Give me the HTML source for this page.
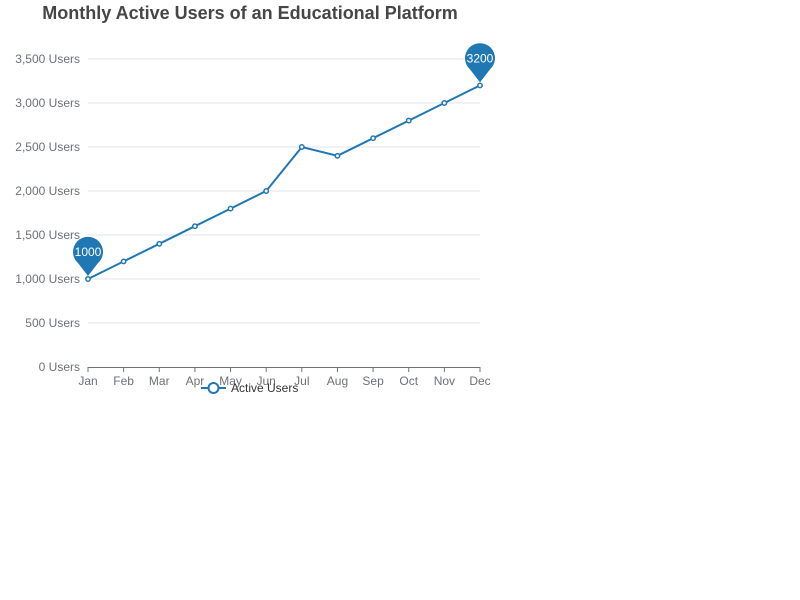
<!DOCTYPE html>
<html><head><meta charset="utf-8"><style>
body{margin:0;background:#fff;}
svg{display:block;font-family:"Liberation Sans",sans-serif;}
</style></head><body>
<svg id="c" width="800" height="600">
<text x="250" y="19" text-anchor="middle" font-size="18" font-weight="bold" fill="#464646">Monthly Active Users of an Educational Platform</text>
<g id="grid"></g><g id="axes"></g><g id="series"></g><g id="pins"></g>
<g>
<line x1="201" y1="388" x2="226" y2="388" stroke="#1f77b4" stroke-width="2"/>
<circle cx="213.5" cy="388" r="5" fill="#fff" stroke="#1f77b4" stroke-width="2"/>
<text x="231" y="392" font-size="12" fill="#333">Active Users</text>
</g>
</svg>
<script>
const categories=["Jan","Feb","Mar","Apr","May","Jun","Jul","Aug","Sep","Oct","Nov","Dec"];
const values=[1000,1200,1400,1600,1800,2000,2500,2400,2600,2800,3000,3200];
const yTicks=[0,500,1000,1500,2000,2500,3000,3500];
const NS="http://www.w3.org/2000/svg";
const x0=88,x1=480,y0=367,y1=59,yMax=3500;
const xs=i=>x0+i*(x1-x0)/(categories.length-1);
const ys=v=>y0-v/yMax*(y0-y1);
function mk(t,a,p){const e=document.createElementNS(NS,t);for(const k in a)e.setAttribute(k,a[k]);p.appendChild(e);return e;}
const grid=document.getElementById('grid'),axes=document.getElementById('axes'),series=document.getElementById('series'),pins=document.getElementById('pins');
yTicks.forEach(v=>{
 if(v>0){const l=mk('line',{x1:x0,x2:x1,y1:ys(v),y2:ys(v),stroke:'#e0e6f1'},grid);
 
 }
 const t=mk('text',{x:80,y:ys(v)+4,'text-anchor':'end','font-size':12,fill:'#6e7079'},axes);
 t.textContent=v.toLocaleString('en-US')+' Users';
 
 
});
const ax=mk('line',{x1:x0,x2:x1,y1:y0+.5,y2:y0+.5,stroke:'#6e7079'},axes);


categories.forEach((c,i)=>{
 mk('line',{x1:xs(i),x2:xs(i),y1:y0,y2:y0+5,stroke:'#6e7079'},axes);
 const t=mk('text',{x:xs(i),y:y0+18,'text-anchor':'middle','font-size':12,fill:'#6e7079'},axes);
 t.textContent=c;
 
 
});
const line=mk('polyline',{points:values.map((v,i)=>xs(i)+','+ys(v)).join(' '),fill:'none',stroke:'#1f77b4','stroke-width':2},series);


values.forEach((v,i)=>{
 const p=mk('circle',{cx:xs(i),cy:ys(v),r:2.2,fill:'#fff',stroke:'#1f77b4','stroke-width':1.5},series);
 
 
});
function pin(i){
 const x=xs(i),y=ys(values[i]);
 const g=mk('g',{},pins);
 
 
 const cy=y-27,r=15;
 mk('path',{d:`M${x},${y-3} L${x-10},${cy+11} A${r},${r} 0 1 1 ${x+10},${cy+11} Z`,fill:'#1f77b4'},g);
 const t=mk('text',{x:x,y:cy+4,'text-anchor':'middle','font-size':12,fill:'#fff'},g);
 t.textContent=values[i];
}
pin(values.indexOf(Math.min(...values)));
pin(values.indexOf(Math.max(...values)));
</script>
</body></html>
